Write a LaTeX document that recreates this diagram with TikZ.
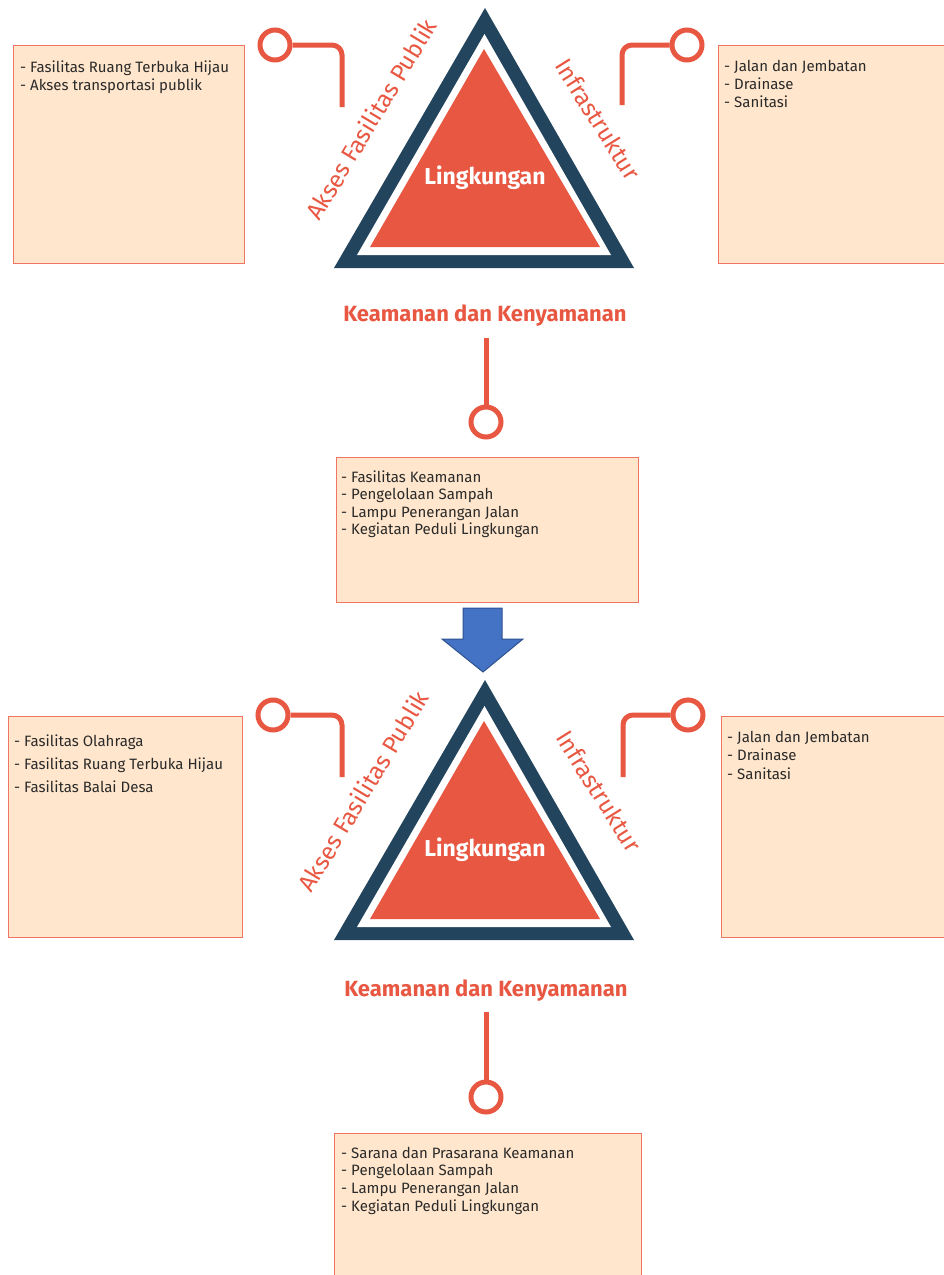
\documentclass[tikz,border=0pt]{standalone}
\usepackage{fontspec}
\setmainfont{Fira Sans}
\definecolor{accent}{HTML}{E85741}
\definecolor{navy}{HTML}{23445D}
\definecolor{peach}{HTML}{FFE6CC}
\definecolor{boxedge}{HTML}{EE7464}
\definecolor{itemgray}{HTML}{2A2A2A}
\definecolor{arrowblue}{HTML}{4472C4}
\definecolor{arrowedge}{HTML}{2F528F}
\begin{document}
\begin{tikzpicture}[x=1pt,y=-1pt,
  itemtext/.style={anchor=base west, inner sep=0pt, text=itemgray,
    font=\fontsize{15}{18}\selectfont},
  infobox/.style={draw=boxedge, fill=peach, line width=1.2pt, anchor=north west,
    inner sep=0pt},
  heading/.style={text=accent, font=\bfseries\fontsize{22}{26}\selectfont, inner sep=0pt},
  core/.style={text=white, font=\bfseries\fontsize{23}{27}\selectfont, inner sep=0pt},
  sidelabel/.style={text=accent, font=\fontsize{24}{28}\selectfont, inner sep=0pt},
  knob/.style={circle, draw=accent, line width=5pt, fill=white, minimum size=30pt,
    inner sep=0pt},
  link/.style={draw=accent, line width=5pt, rounded corners=10pt},
]
\useasboundingbox (0,0) rectangle (943,1275);

% ---------- triangle with its three labels (upper and lower copies) ----------
\foreach \dy/\sfx/\ax/\ix in {0/a/371/598, 672/b/363/599} {
  \begin{scope}[yshift=-\dy pt]
    \fill[navy] (485,8) -- (334,268) -- (634,268) -- cycle;
    \fill[white] (484.5,34) -- (357,255) -- (611,255) -- cycle;
    \fill[accent] (484,49) -- (370,247) -- (600,247) -- cycle;
    \node[core] (core\sfx) at (485,178) {Lingkungan};
    \node[sidelabel, rotate=59] (pub\sfx) at (\ax,119) {Akses Fasilitas Publik};
    \node[sidelabel, rotate=-58] (inf\sfx) at (\ix,119) {Infrastruktur};
  \end{scope}
}

% ---------- upper diagram ----------
\node[infobox, minimum width=231pt, minimum height=218pt] (boxTL) at (13,45) {};
\node[infobox, minimum width=228pt, minimum height=218pt] (boxTR) at (718,45) {};
\node[infobox, minimum width=302pt, minimum height=145pt] (boxM) at (336,457) {};

\foreach \t [count=\i from 0] in {- Fasilitas Ruang Terbuka Hijau, - Akses transportasi publik}
  \node[itemtext] (tl\i) at (20,72+18*\i) {\t};
\foreach \t [count=\i from 0] in {- Jalan dan Jembatan, - Drainase, - Sanitasi}
  \node[itemtext] (tr\i) at (724,71+18*\i) {\t};
\foreach \t [count=\i from 0] in {- Fasilitas Keamanan, - Pengelolaan Sampah,
    - Lampu Penerangan Jalan, - Kegiatan Peduli Lingkungan}
  \node[itemtext] (m\i) at (341,482+17.5*\i) {\t};

\node[heading] (safeA) at (485,316) {Keamanan dan Kenyamanan};

\node[knob] (knobTL) at (275,45) {};
\node[knob] (knobTR) at (687,45) {};
\node[knob] (knobM) at (486,422) {};
\coordinate (endTL) at (342,107);
\coordinate (endTR) at (622,105);
\coordinate (startM) at (486,338);
\draw[link] (knobTL.east) -| (endTL);
\draw[link] (knobTR.west) -| (endTR);
\draw[link] (startM) -- (knobM.north);

% ---------- transition arrow ----------
\fill[arrowblue, draw=arrowedge, line width=1pt, line join=miter]
  (463,608) -- (502,608) -- (502,639) -- (523,639) -- (483,672) -- (442,639)
  -- (463,639) -- cycle;

% ---------- lower diagram ----------
\node[infobox, minimum width=234pt, minimum height=221pt] (boxBL) at (8,716) {};
\node[infobox, minimum width=225pt, minimum height=221pt] (boxBR) at (721,716) {};
\node[infobox, minimum width=307pt, minimum height=150pt] (boxB) at (334,1133) {};

\foreach \t [count=\i from 0] in {- Fasilitas Olahraga, - Fasilitas Ruang Terbuka Hijau,
    - Fasilitas Balai Desa}
  \node[itemtext] (bl\i) at (14,746+23*\i) {\t};
\foreach \t [count=\i from 0] in {- Jalan dan Jembatan, - Drainase, - Sanitasi}
  \node[itemtext] (br\i) at (727,742+18.5*\i) {\t};
\foreach \t [count=\i from 0] in {- Sarana dan Prasarana Keamanan, - Pengelolaan Sampah,
    - Lampu Penerangan Jalan, - Kegiatan Peduli Lingkungan}
  \node[itemtext] (b\i) at (341,1158+17.7*\i) {\t};

\node[heading] (safeB) at (486,991) {Keamanan dan Kenyamanan};

\node[knob] (knobBL) at (273,715) {};
\node[knob] (knobBR) at (688,715) {};
\node[knob] (knobB) at (486,1097) {};
\coordinate (endBL) at (342,777);
\coordinate (endBR) at (623,777);
\coordinate (startB) at (486,1012);
\draw[link] (knobBL.east) -| (endBL);
\draw[link] (knobBR.west) -| (endBR);
\draw[link] (startB) -- (knobB.north);
\end{tikzpicture}
\end{document}
